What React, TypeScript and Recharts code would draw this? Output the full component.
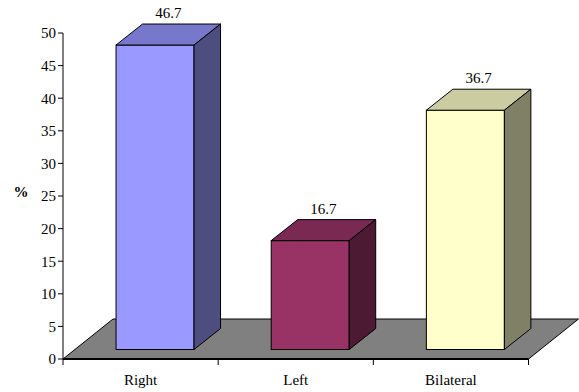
import React from 'react';
import { BarChart, Bar, XAxis, YAxis } from 'recharts';

const categories = ['Right', 'Left', 'Bilateral'];
const values = [46.7, 16.7, 36.7];
const yTicks = [0, 5, 10, 15, 20, 25, 30, 35, 40, 45, 50];
const frontColors = ['#9999FF', '#993366', '#FFFFCC'];
const topColors = ['#7777CC', '#7A2952', '#CCCCA3'];
const sideColors = ['#4D4D80', '#4D1A33', '#808066'];

const data = categories.map((c, i) => ({ name: c, value: values[i] }));

const W = 579;
const H = 392;
const PLOT_LEFT = 63;
const PLOT_RIGHT = 528.5;
const PLOT_TOP = 33;
const BASE_Y = 359;
const X_AXIS_H = 30;
const FLOOR_DX = 50;
const FLOOR_DY = -40;
const DEPTH_DX = 26.5;
const DEPTH_DY = -21;
const SHIFT_X = 14.25;
const LIFT = 9.5;
const FONT = "'Liberation Serif', serif";
const BAND = (PLOT_RIGHT - PLOT_LEFT) / categories.length;
const textStyle = { fontFamily: FONT, fontSize: 15 };

const pts = (a: number[][]) => a.map((p) => p.join(',')).join(' ');

function Bar3D(props: any) {
  const { x, y, width, height, index, payload } = props;
  const fx = x + SHIFT_X;
  const fy = y - LIFT;
  const fb = y + height - LIFT;
  const base = y + height;
  const i = index ?? 0;
  return (
    <g>
      {i === 0 && (
        <polygon
          points={pts([
            [PLOT_LEFT, base],
            [PLOT_RIGHT, base],
            [PLOT_RIGHT + FLOOR_DX, base + FLOOR_DY],
            [PLOT_LEFT + FLOOR_DX, base + FLOOR_DY],
          ])}
          fill="#808080"
          stroke="#000"
          strokeWidth={1}
        />
      )}
      <rect x={fx} y={fy} width={width} height={fb - fy} fill={frontColors[i]} stroke="#000" strokeWidth={1} />
      <polygon
        points={pts([
          [fx, fy],
          [fx + DEPTH_DX, fy + DEPTH_DY],
          [fx + width + DEPTH_DX, fy + DEPTH_DY],
          [fx + width, fy],
        ])}
        fill={topColors[i]}
        stroke="#000"
        strokeWidth={1}
      />
      <polygon
        points={pts([
          [fx + width, fy],
          [fx + width + DEPTH_DX, fy + DEPTH_DY],
          [fx + width + DEPTH_DX, fb + DEPTH_DY],
          [fx + width, fb],
        ])}
        fill={sideColors[i]}
        stroke="#000"
        strokeWidth={1}
      />
      <text
        x={fx + (width + DEPTH_DX) / 2}
        y={fy + DEPTH_DY - 6}
        textAnchor="middle"
        style={textStyle}
        fill="#000"
      >
        {payload.value.toFixed(1)}
      </text>
    </g>
  );
}

function XTick(props: any) {
  const { x, payload, index } = props;
  const lastIdx = categories.length - 1;
  return (
    <g>
      <line x1={x - BAND / 2} y1={BASE_Y} x2={x - BAND / 2} y2={BASE_Y + 6} stroke="#000" />
      {index === lastIdx && (
        <line x1={x + BAND / 2} y1={BASE_Y} x2={x + BAND / 2} y2={BASE_Y + 6} stroke="#000" />
      )}
      <text x={x} y={BASE_Y + 26} textAnchor="middle" style={textStyle} fill="#000">
        {payload.value}
      </text>
    </g>
  );
}

function YTick(props: any) {
  const { x, y, payload } = props;
  return (
    <text x={x} y={y} dy="0.36em" textAnchor="end" style={textStyle} fill="#000">
      {payload.value}
    </text>
  );
}

function YLabel() {
  return (
    <text x={21} y={197} textAnchor="middle" style={{ ...textStyle, fontWeight: 'bold' }} fill="#000">
      %
    </text>
  );
}

export default function App() {
  return (
    <div style={{ position: 'absolute', left: 0, top: 0, width: W, height: H, background: '#fff' }}>
      <BarChart
        width={W}
        height={H}
        data={data}
        margin={{ top: PLOT_TOP, right: W - PLOT_RIGHT, bottom: H - BASE_Y - X_AXIS_H, left: 0 }}
        barCategoryGap="25%"
      >
        <XAxis
          dataKey="name"
          height={X_AXIS_H}
          axisLine={{ stroke: '#000', strokeWidth: 2 }}
          tickLine={false}
          tick={<XTick />}
          interval={0}
        />
        <YAxis
          width={PLOT_LEFT}
          domain={[0, 50]}
          ticks={yTicks}
          interval={0}
          axisLine={{ stroke: '#000' }}
          tickLine={{ stroke: '#000' }}
          tickSize={5}
          tickMargin={2}
          tick={<YTick />}
          label={<YLabel />}
        />
        <Bar dataKey="value" shape={<Bar3D />} isAnimationActive={false} />
      </BarChart>
    </div>
  );
}
